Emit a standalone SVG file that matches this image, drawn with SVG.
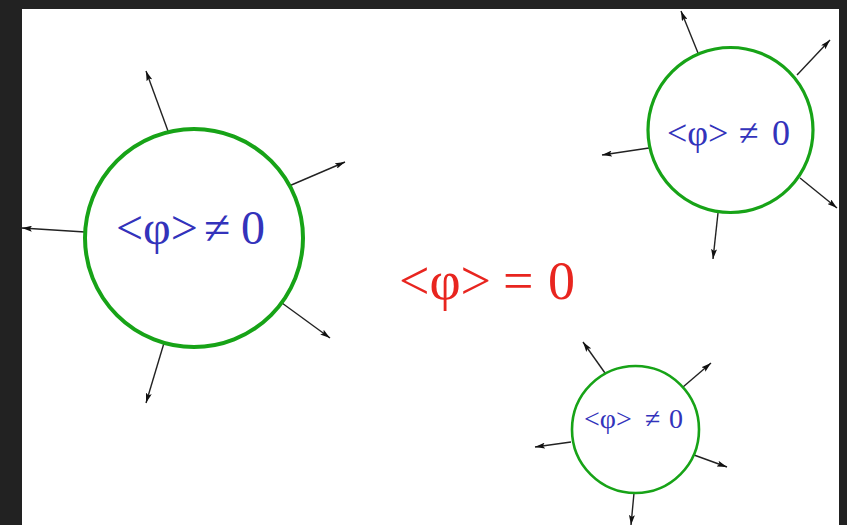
<svg xmlns="http://www.w3.org/2000/svg" width="847" height="525" viewBox="0 0 847 525">
<defs>
<marker id="ah" viewBox="0 0 10 6" refX="10" refY="3" markerWidth="10" markerHeight="6" markerUnits="userSpaceOnUse" orient="auto">
<path d="M0,0 L10,3 L0,6 L2,3 z" fill="#111"/>
</marker>
</defs>
<style>
.bubble{fill:#fff;stroke:#17a317}
.lbl{font-family:"Liberation Serif","Times New Roman",serif;fill:#3333bb}
.eq{font-family:"Liberation Serif","Times New Roman",serif;fill:#e8251f}
.arr{stroke:#222;stroke-width:1.4;fill:none;marker-end:url(#ah)}
</style>
<rect x="0" y="0" width="847" height="525" fill="#222222"/>
<rect x="22" y="9" width="817" height="516" fill="#ffffff"/>
<g id="connectors">
<line class="arr" x1="168" y1="131" x2="146" y2="71"/>
<line class="arr" x1="289" y1="186" x2="345" y2="162"/>
<line class="arr" x1="85" y1="232" x2="22" y2="228"/>
<line class="arr" x1="282" y1="303" x2="330" y2="338"/>
<line class="arr" x1="164" y1="343" x2="146" y2="403"/>
<line class="arr" x1="698" y1="53" x2="681" y2="11"/>
<line class="arr" x1="797" y1="75" x2="830" y2="40"/>
<line class="arr" x1="649" y1="148" x2="602" y2="155"/>
<line class="arr" x1="800" y1="178" x2="837" y2="208"/>
<line class="arr" x1="718" y1="213" x2="713" y2="259"/>
<line class="arr" x1="605" y1="373" x2="583" y2="342"/>
<line class="arr" x1="683" y1="387" x2="711" y2="363"/>
<line class="arr" x1="571" y1="442" x2="535" y2="447"/>
<line class="arr" x1="694" y1="455" x2="727" y2="467"/>
<line class="arr" x1="634" y1="493" x2="631" y2="525"/>
</g>
<g id="bubble-large">
<circle class="bubble" cx="194" cy="238" r="109" stroke-width="4"/>
<text class="lbl" x="116" y="244" font-size="48">&lt;φ&gt;<tspan x="204">≠</tspan><tspan x="241">0</tspan></text>
</g>
<g id="bubble-topright">
<circle class="bubble" cx="730.5" cy="130" r="82.5" stroke-width="3.2"/>
<text class="lbl" x="667" y="145" font-size="36">&lt;φ&gt;<tspan x="739">≠</tspan><tspan x="772">0</tspan></text>
</g>
<g id="bubble-small">
<circle class="bubble" cx="635.5" cy="429.5" r="63.5" stroke-width="2.6"/>
<text class="lbl" x="584" y="428" font-size="28">&lt;φ&gt;<tspan x="645">≠</tspan><tspan x="669">0</tspan></text>
</g>
<g id="outside-label">
<text class="eq" x="399" y="299" font-size="54">&lt;φ&gt;<tspan x="503">=</tspan><tspan x="548">0</tspan></text>
</g>
</svg>
